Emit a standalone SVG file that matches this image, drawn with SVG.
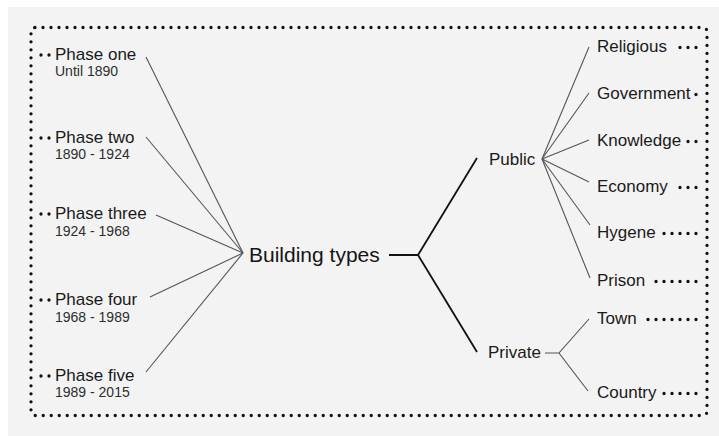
<svg xmlns="http://www.w3.org/2000/svg" width="719" height="436" viewBox="0 0 719 436">
<style>
.t{font-family:"Liberation Sans",Arial,sans-serif;font-size:17px;fill:#1a1a1a}
.s{font-family:"Liberation Sans",Arial,sans-serif;font-size:14px;fill:#2e2e2e}
.big{font-family:"Liberation Sans",Arial,sans-serif;font-size:21px;fill:#151515}
.dot{fill:none;stroke:#111;stroke-width:3.3;stroke-linecap:round;stroke-dasharray:0 8}
.thin{fill:none;stroke:#555;stroke-width:1.1}
.thick{fill:none;stroke:#111;stroke-width:1.8}
</style>
<rect x="0" y="0" width="719" height="436" fill="#ffffff"/>
<rect x="8" y="7" width="711" height="429" fill="#f3f3f3"/>
<rect id="frame" x="31" y="27.5" width="676" height="388" rx="4" class="dot"/>

<g id="connectors">
  <line class="thin" x1="146" y1="57" x2="243" y2="253"/>
  <line class="thin" x1="146" y1="137" x2="243" y2="253"/>
  <line class="thin" x1="156" y1="215" x2="243" y2="253"/>
  <line class="thin" x1="150" y1="297" x2="243" y2="253"/>
  <line class="thin" x1="146" y1="372" x2="243" y2="253"/>
  <path class="thick" d="M389 255 H418 M477 158 L418 255 L477 352"/>
  <line class="thin" x1="542" y1="159" x2="589" y2="47"/>
  <line class="thin" x1="542" y1="159" x2="589" y2="93"/>
  <line class="thin" x1="542" y1="159" x2="589" y2="140"/>
  <line class="thin" x1="542" y1="159" x2="589" y2="182"/>
  <line class="thin" x1="542" y1="159" x2="590" y2="225"/>
  <line class="thin" x1="542" y1="159" x2="590" y2="278"/>
  <path class="thin" d="M545 353 H559 M589 319 L559 353 L588 391"/>
  <!-- leading dots -->
  <line class="dot" x1="41" y1="55" x2="49.5" y2="55"/>
  <line class="dot" x1="41" y1="138" x2="49.5" y2="138"/>
  <line class="dot" x1="41" y1="214" x2="49.5" y2="214"/>
  <line class="dot" x1="41" y1="300" x2="49.5" y2="300"/>
  <line class="dot" x1="41" y1="376" x2="49.5" y2="376"/>
  <!-- trailing dots -->
  <line class="dot" x1="696" y1="47.5" x2="679.5" y2="47.5"/>
  <line class="dot" x1="696" y1="94.5" x2="695.5" y2="94.5"/>
  <line class="dot" x1="696" y1="141.5" x2="687.5" y2="141.5"/>
  <line class="dot" x1="696" y1="187.5" x2="679.5" y2="187.5"/>
  <line class="dot" x1="696" y1="233.5" x2="663.5" y2="233.5"/>
  <line class="dot" x1="696" y1="281.5" x2="655.5" y2="281.5"/>
  <line class="dot" x1="696" y1="319.5" x2="647.5" y2="319.5"/>
  <line class="dot" x1="696" y1="393.5" x2="663.5" y2="393.5"/>
</g>

<g id="phase-one"><text class="t" x="55" y="60">Phase one</text><text class="s" x="55" y="76">Until 1890</text></g>
<g id="phase-two"><text class="t" x="55" y="143">Phase two</text><text class="s" x="55" y="159">1890 - 1924</text></g>
<g id="phase-three"><text class="t" x="55" y="219">Phase three</text><text class="s" x="55" y="236">1924 - 1968</text></g>
<g id="phase-four"><text class="t" x="55" y="305">Phase four</text><text class="s" x="55" y="322">1968 - 1989</text></g>
<g id="phase-five"><text class="t" x="55" y="381">Phase five</text><text class="s" x="55" y="397">1989 - 2015</text></g>

<g id="building-types"><text class="big" x="249" y="262">Building types</text></g>
<g id="public"><text class="t" x="489" y="165">Public</text></g>
<g id="private"><text class="t" x="488" y="358">Private</text></g>

<g id="religious"><text class="t" x="597" y="52">Religious</text></g>
<g id="government"><text class="t" x="597" y="99">Government</text></g>
<g id="knowledge"><text class="t" x="597" y="146">Knowledge</text></g>
<g id="economy"><text class="t" x="597" y="192">Economy</text></g>
<g id="hygene"><text class="t" x="597" y="238">Hygene</text></g>
<g id="prison"><text class="t" x="597" y="286">Prison</text></g>
<g id="town"><text class="t" x="597" y="324">Town</text></g>
<g id="country"><text class="t" x="597" y="398">Country</text></g>
</svg>
